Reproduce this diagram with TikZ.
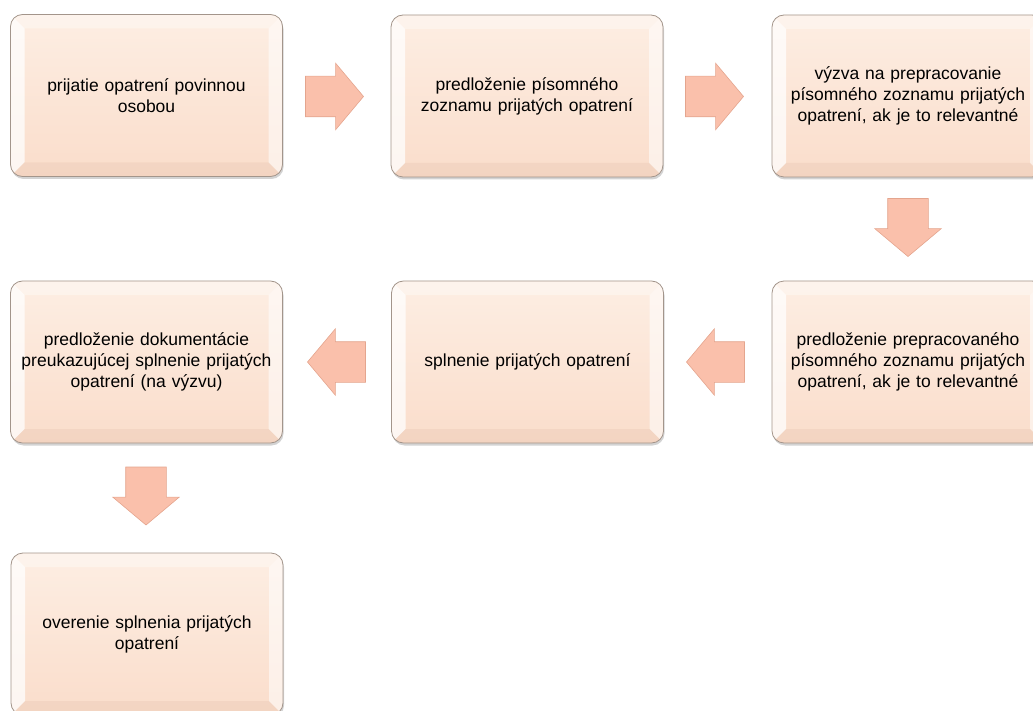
\documentclass[tikz,border=0pt]{standalone}
\usepackage{fontspec}
\setmainfont{Liberation Sans}
\usetikzlibrary{shapes.arrows,shadows}
\definecolor{facetop}{HTML}{FDEEE3}
\definecolor{facebot}{HTML}{FADDCB}
\definecolor{boxborder}{HTML}{A3958B}
\definecolor{bevdark}{HTML}{E6C2AC}
\definecolor{arrfill}{HTML}{FAC0AB}
\definecolor{arrdraw}{HTML}{E4A58E}
\tikzset{
  box/.style={rounded corners=12pt, minimum width=272pt, minimum height=162pt,
    draw=boxborder, line width=0.8pt, top color=facetop, bottom color=facebot,
    text width=262pt, align=center, inner sep=0pt,
    font=\fontsize{17.5pt}{21pt}\selectfont,
    drop shadow={shadow xshift=1pt, shadow yshift=-2.5pt, opacity=0.35},
    path picture={
      \fill[sharp corners, white, opacity=0.75] (path picture bounding box.north west) -- (path picture bounding box.south west)
        -- ([shift={(14pt,14pt)}]path picture bounding box.south west) -- ([shift={(14pt,-14pt)}]path picture bounding box.north west) -- cycle;
      \fill[sharp corners, white, opacity=0.55] (path picture bounding box.north east) -- (path picture bounding box.south east)
        -- ([shift={(-14pt,14pt)}]path picture bounding box.south east) -- ([shift={(-14pt,-14pt)}]path picture bounding box.north east) -- cycle;
      \fill[sharp corners, white, opacity=0.35] (path picture bounding box.north west) -- (path picture bounding box.north east)
        -- ([shift={(-14pt,-14pt)}]path picture bounding box.north east) -- ([shift={(14pt,-14pt)}]path picture bounding box.north west) -- cycle;
      \fill[sharp corners, bevdark, opacity=0.3] (path picture bounding box.south west) -- (path picture bounding box.south east)
        -- ([shift={(-14pt,14pt)}]path picture bounding box.south east) -- ([shift={(14pt,14pt)}]path picture bounding box.south west) -- cycle;
    }},
  blockarrow/.style={single arrow, fill=arrfill, draw=arrdraw, line width=0.6pt,
    minimum height=58pt, single arrow head extend=13pt,
    single arrow tip angle=100, inner xsep=0pt, inner ysep=20pt,
    text width=0pt, text height=0pt, text depth=0pt, outer sep=0pt},
  downarrow/.style={blockarrow, shape border rotate=270, inner xsep=20pt, inner ysep=0pt},
  leftarrow/.style={blockarrow, shape border rotate=180}
}
\begin{document}
\begin{tikzpicture}[x=1pt, y=-1pt]
\useasboundingbox (0,0) rectangle (1033,711);
\node[box] (b1) at (146.5,95.5) {prijatie opatrení povinnou\\osobou};
\node[box] (b2) at (527,96) {predloženie písomného\\zoznamu prijatých opatrení};
\node[box] (b3) at (908,96) {výzva na prepracovanie\\písomného zoznamu prijatých\\opatrení, ak je to relevantné};
\node[box] (b6) at (908,362) {predloženie prepracovaného\\písomného zoznamu prijatých\\opatrení, ak je to relevantné};
\node[box] (b5) at (527.5,362) {splnenie prijatých opatrení};
\node[box] (b4) at (146.5,362) {predloženie dokumentácie\\preukazujúcej splnenie prijatých\\opatrení (na výzvu)};
\node[box] (b7) at (147,634) {overenie splnenia prijatých\\opatrení};
\node[blockarrow] (a12) at (326,96.5) {};
\node[blockarrow] (a23) at (706,96.5) {};
\node[downarrow] (a36) at (908,219) {};
\node[leftarrow] (a65) at (724,362) {};
\node[leftarrow] (a54) at (345,362) {};
\node[downarrow] (a47) at (146,487.5) {};
\end{tikzpicture}
\end{document}
